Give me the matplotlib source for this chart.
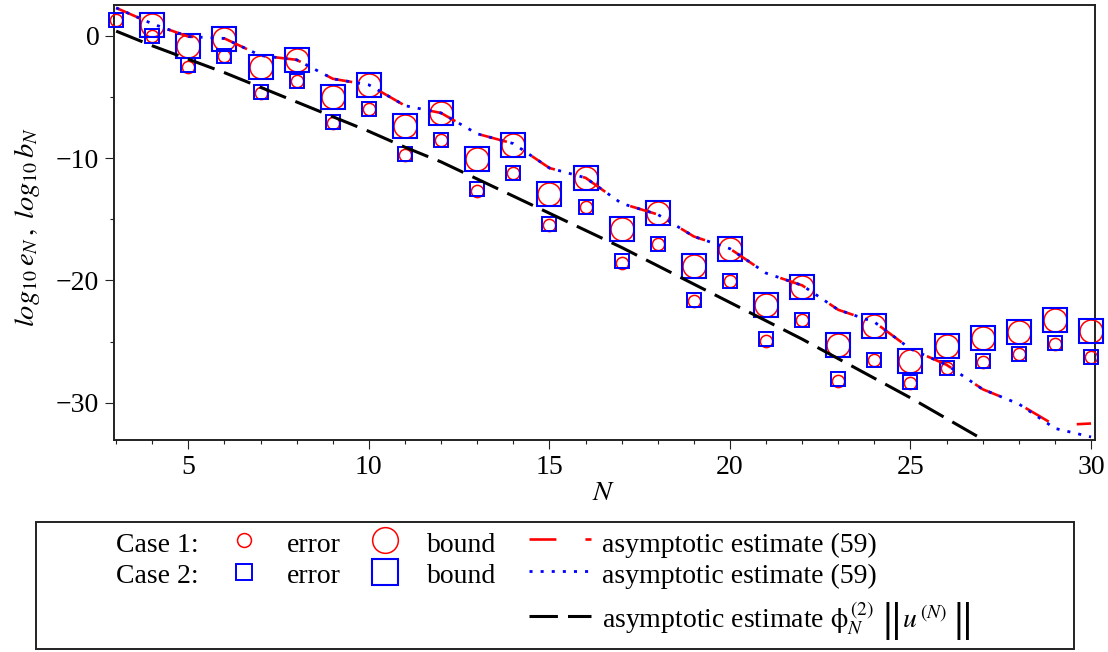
import matplotlib
matplotlib.use('Agg')
import matplotlib.pyplot as plt
from matplotlib.patches import Rectangle
from matplotlib.ticker import MultipleLocator, FixedLocator

plt.rcParams['font.family'] = ['Liberation Serif', 'DejaVu Serif']
plt.rcParams['mathtext.fontset'] = 'stix'

# ---------------- data ----------------
N_error = list(range(3, 31))
N_bound = list(range(4, 31))
N_est = list(range(3, 31))

case1_error = [1.27, 0.0, -2.5, -1.6, -4.7, -3.66, -7.15, -6.0, -9.77, -8.5,
               -12.65, -11.2, -15.5, -14.0, -18.55, -17.0, -21.7, -20.05, -24.95, -23.2,
               -28.2, -26.5, -28.4, -27.2, -26.65, -26.0, -25.2, -26.3]
case2_error = [1.27, 0.0, -2.4, -1.6, -4.6, -3.66, -7.05, -6.0, -9.67, -8.5,
               -12.5, -11.2, -15.35, -14.0, -18.4, -17.0, -21.56, -20.05, -24.8, -23.2,
               -28.06, -26.5, -28.3, -27.2, -26.56, -26.0, -25.1, -26.3]
case1_bound = [0.9, -0.8, -0.25, -2.57, -1.97, -4.97, -4.0, -7.38, -6.34, -10.1,
               -8.93, -12.9, -11.6, -15.8, -14.5, -18.85, -17.46, -22.0, -20.55, -25.25,
               -23.7, -26.56, -25.4, -24.7, -24.2, -23.2, -24.1]
case2_bound = [0.9, -0.8, -0.25, -2.57, -1.97, -4.97, -4.0, -7.38, -6.34, -10.1,
               -8.93, -12.9, -11.6, -15.8, -14.5, -18.85, -17.46, -22.0, -20.55, -25.25,
               -23.7, -26.56, -25.4, -24.7, -24.2, -23.2, -24.1]
case1_estimate = [2.3, 1.0, -0.05, -0.2, -1.6, -1.95, -3.5, -4.0, -5.7, -6.3,
                  -8.0, -8.8, -10.8, -11.6, -13.7, -14.6, -16.4, -17.4, -19.4, -20.4,
                  -22.4, -23.4, -25.6, -26.9, -28.9, -30.1, -31.85, -31.7]
case2_estimate = [2.3, 1.0, -0.05, -0.2, -1.6, -1.95, -3.5, -4.0, -5.7, -6.3,
                  -8.0, -8.8, -10.8, -11.6, -13.7, -14.6, -16.4, -17.4, -19.4, -20.4,
                  -22.4, -23.4, -25.6, -26.9, -28.9, -30.1, -32.1, -32.8]
phi_estimate = [0.4, -0.8, -1.9, -3.0, -4.2, -5.4, -6.6, -7.8, -9.1, -10.3,
                -11.7, -13.1, -14.5, -15.9, -17.3, -18.8, -20.3, -21.8, -23.3, -24.8,
                -26.4, -28.0, -29.6, -31.3, -33.0, -34.7, -36.4, -38.1]

x_ticks = [5, 10, 15, 20, 25, 30]
y_ticks = [-30, -20, -10, 0]

legend_rows = ['Case 1:', 'Case 2:']
legend_marker_labels = ['error', 'bound']
legend_line_labels = ['asymptotic estimate (59)', 'asymptotic estimate (59)',
                      r'asymptotic estimate $\mathrm{\phi}_N^{\,(2)}$']

# ---------------- figure ----------------
W, H = 1108, 652
fig = plt.figure(figsize=(W / 100, H / 100), dpi=100)
ax = fig.add_axes([114 / W, 1 - 440 / H, (1095 - 114) / W, (440 - 4.7) / H])

RED = (1, 0, 0)
BLUE = (0, 0, 1)
FS = 20

big_c = dict(marker='o', ms=16.5, mew=1.1, mfc='none', mec=RED, ls='none', clip_on=False)
big_s = dict(marker='s', ms=17.5, mew=1.5, mfc='none', mec=BLUE, ls='none', clip_on=False)
small_c = dict(marker='o', ms=8.8, mew=1.1, mfc='none', mec=RED, ls='none', clip_on=False)
small_s = dict(marker='s', ms=10.2, mew=1.4, mfc='none', mec=BLUE, ls='none', clip_on=False)

ax.plot(N_bound, case1_bound, zorder=3, **big_c)
ax.plot(N_error, case1_error, zorder=3, **small_c)
ax.plot(N_bound, case2_bound, zorder=3, **big_s)
ax.plot(N_error, case2_error, zorder=3, **small_s)

black_kw = dict(color='black', lw=2.2, dashes=(9.3, 3.3))
red_kw = dict(color=RED, lw=1.9, dashes=(10.2, 11.0))
blue_kw = dict(color=BLUE, lw=2.0, dashes=(1.1, 2.9))

ax.plot(N_est, phi_estimate, zorder=4, **black_kw)
ax.plot(N_est, case1_estimate, zorder=5, **red_kw)
ax.plot(N_est, case2_estimate, zorder=6, **blue_kw)

ax.set_xlim(2.94, 30.11)
ax.set_ylim(-33.05, 2.56)
ax.xaxis.set_major_locator(FixedLocator(x_ticks))
ax.xaxis.set_minor_locator(MultipleLocator(1))
ax.yaxis.set_major_locator(FixedLocator(y_ticks))
ax.yaxis.set_minor_locator(MultipleLocator(5))
ax.tick_params(which='both', direction='out', top=False, right=False,
               labelsize=FS, width=0.8, color='#222222')
ax.tick_params(which='major', length=6.6, pad=4)
ax.tick_params(which='minor', length=2.6)
for s in ax.spines.values():
    s.set_linewidth(1.4)
    s.set_color('#222222')

fig.text(27 / W, 1 - 227 / H,
         r'$log_{\mathit{10}}\,e_N\,,\;log_{\mathit{10}}\,b_N$',
         rotation=90, ha='center', va='center', fontsize=FS + 0.5)
fig.text(604 / W, 1 - 493 / H, r'$N$', ha='center', va='center', fontsize=FS + 0.5)

# ---------------- legend (drawn in pixel coordinates) ----------------
lax = fig.add_axes([0, 0, 1, 1])
lax.set_xlim(0, W)
lax.set_ylim(H, 0)
lax.axis('off')
lax.patch.set_visible(False)
lax.add_patch(Rectangle((35.7, 521.7), 1074 - 35.7, 649.3 - 521.7, fill=False,
                        lw=1.4, ec='#222222'))

row_y = [540.0, 571.7, 616.0]
base_off = 11.5
for i, lab in enumerate(legend_rows):
    lax.text(116, row_y[i] + base_off, lab, fontsize=FS, va='baseline', ha='left')
    lax.text(286.7, row_y[i] + base_off, legend_marker_labels[0], fontsize=FS,
             va='baseline', ha='left')
    lax.text(427.3, row_y[i] + base_off, legend_marker_labels[1], fontsize=FS,
             va='baseline', ha='left')

lax.plot([244], [row_y[0]], **{**small_c, 'ms': 10})
lax.plot([385.3], [row_y[0]], **{**big_c, 'ms': 18.5})
lax.plot([244], [row_y[1]], **{**small_s, 'ms': 11})
lax.plot([385.3], [row_y[1]], **{**big_s, 'ms': 18.5})

lx = [529, 591]
lax.plot(lx, [row_y[0] - 1.5] * 2, **red_kw)
lax.plot(lx, [row_y[1] - 1] * 2, **blue_kw)
lax.plot(lx, [row_y[2]] * 2, **black_kw)
texts = []
for i, lab in enumerate(legend_line_labels):
    texts.append(lax.text(602, row_y[i] + base_off, lab, fontsize=FS,
                          va='baseline', ha='left'))

# norm part of the third legend entry: ‖u^(N)‖ with tall bars
renderer = fig.canvas.get_renderer()
inv = lax.transData.inverted()


def right_edge(t):
    bb = t.get_window_extent(renderer=renderer)
    return inv.transform((bb.x1, bb.y0))[0]


x = right_edge(texts[2]) + 6
bar1 = lax.text(x, row_y[2] + 5, r'$\Vert$', fontsize=31, va='center', ha='left')
x = right_edge(bar1) + 3
unorm = lax.text(x, row_y[2] + base_off, r'$u^{\,(N)}$', fontsize=FS,
                 va='baseline', ha='left')
x = right_edge(unorm) + 4
lax.text(x, row_y[2] + 5, r'$\Vert$', fontsize=31, va='center', ha='left')

fig.savefig('out.png', dpi=100)
